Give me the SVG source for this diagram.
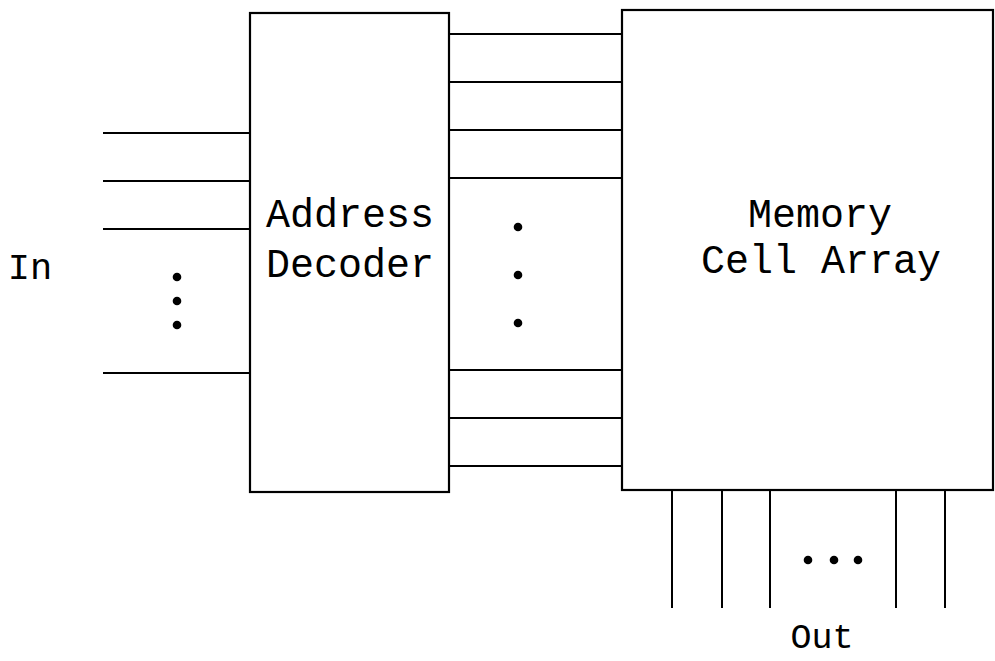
<svg xmlns="http://www.w3.org/2000/svg" width="995" height="661" viewBox="0 0 995 661">
<style>
.box{fill:#fff;stroke:#000;stroke-width:2.2}
.ln{stroke:#000;stroke-width:2;fill:none}
.dot{fill:#000}
.t{font-family:"Liberation Mono","DejaVu Sans Mono",monospace;font-size:40px;fill:#000;text-anchor:middle}
.s{font-size:37px}
.o{font-size:35px}
</style>
<rect width="995" height="661" fill="#fff"/>
<g id="connectors">
  <path class="ln" d="M103 133H250M103 181H250M103 229H250M103 373H250"/>
  <path class="ln" d="M449 34H622M449 82H622M449 130H622M449 178H622M449 370H622M449 418H622M449 466H622"/>
  <path class="ln" d="M672 490V608M722 490V608M770 490V608M896 490V608M945 490V608"/>
</g>
<g id="decoder">
  <rect class="box" x="250" y="13" width="199" height="479"/>
  <text class="t" x="350" y="227">Address</text>
  <text class="t" x="350" y="277">Decoder</text>
</g>
<g id="memory">
  <rect class="box" x="622" y="10" width="371" height="480"/>
  <text class="t" x="820" y="227">Memory</text>
  <text class="t" x="821" y="273">Cell Array</text>
</g>
<g id="in-label">
  <text class="t s" x="30" y="279">In</text>
  <circle class="dot" cx="177" cy="277" r="4.3"/>
  <circle class="dot" cx="177" cy="301" r="4.3"/>
  <circle class="dot" cx="177" cy="325" r="4.3"/>
</g>
<g id="mid-dots">
  <circle class="dot" cx="518" cy="227" r="4.3"/>
  <circle class="dot" cx="518" cy="275" r="4.3"/>
  <circle class="dot" cx="518" cy="323" r="4.3"/>
</g>
<g id="out-label">
  <circle class="dot" cx="808" cy="560" r="4.3"/>
  <circle class="dot" cx="834" cy="560" r="4.3"/>
  <circle class="dot" cx="858" cy="560" r="4.3"/>
  <text class="t o" x="822" y="648">Out</text>
</g>
</svg>
